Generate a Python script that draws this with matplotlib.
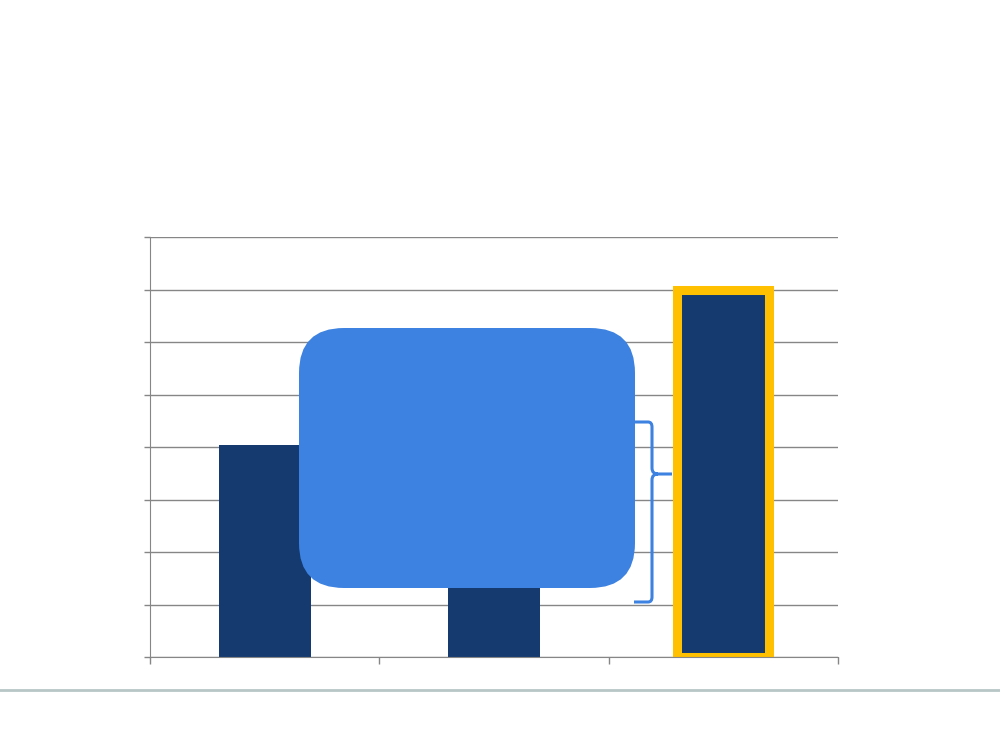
import matplotlib.pyplot as plt
from matplotlib.patches import FancyBboxPatch, PathPatch
from matplotlib.path import Path

categories = ["A", "B", "C"]
values = [4.04, 4.5, 7.0]
y_ticks = [0, 1, 2, 3, 4, 5, 6, 7, 8]

bar_color = "#143a70"
highlight = "#ffc000"
box_color = "#3d82e0"
grid_color = "#868686"

fig = plt.figure(figsize=(10, 7.5), dpi=100)
ax = fig.add_axes([0.15, 1 - 657 / 750, 0.688, 420 / 750])

x = range(len(categories))
bars = ax.bar(x, values, width=0.4, color=bar_color, zorder=2)
bars[2].set_edgecolor(highlight)
bars[2].set_linewidth(6.5)

ax.set_xlim(-0.5, len(categories) - 0.5)
ax.set_ylim(0, 8)
ax.set_yticks(y_ticks)
ax.set_yticklabels([])
ax.set_xticks([-0.5, 0.5, 1.5, 2.5])
ax.set_xticklabels([])
ax.tick_params(axis="y", direction="out", length=4, color=grid_color, width=1)
ax.tick_params(axis="x", direction="out", length=5, color=grid_color, width=1)
ax.yaxis.grid(True, color=grid_color, linewidth=1, zorder=0)
ax.set_axisbelow(True)
for side in ["top", "right"]:
    ax.spines[side].set_visible(False)
ax.spines["left"].set_color(grid_color)
ax.spines["bottom"].set_color(grid_color)
ax.spines["left"].set_zorder(3)
ax.spines["bottom"].set_zorder(3)

# rounded callout box (inches from bottom-left)
box = FancyBboxPatch((2.99, 1.62), 3.36, 2.6,
                     boxstyle="round,pad=0,rounding_size=0.45",
                     transform=fig.dpi_scale_trans, facecolor=box_color,
                     edgecolor="none", zorder=5)
fig.patches.append(box)

# curly brace
def p(px, py):
    return (px / 100, (750 - py) / 100)

verts = [p(634, 422), p(648, 422), p(652, 422), p(652, 427),
         p(652, 468), p(652, 474), p(658, 474), p(672, 474),
         p(658, 474), p(652, 474), p(652, 480),
         p(652, 597), p(652, 602), p(648, 602), p(634, 602)]
codes = [Path.MOVETO, Path.LINETO, Path.CURVE3, Path.CURVE3,
         Path.LINETO, Path.CURVE3, Path.CURVE3, Path.LINETO,
         Path.MOVETO, Path.CURVE3, Path.CURVE3,
         Path.LINETO, Path.CURVE3, Path.CURVE3, Path.LINETO]
brace = PathPatch(Path(verts, codes), facecolor="none", edgecolor=box_color,
                  linewidth=2.2, transform=fig.dpi_scale_trans, zorder=5)
fig.patches.append(brace)

# footer separator line
fig.add_artist(plt.Line2D([0, 1], [1 - 690 / 750, 1 - 690 / 750],
                          color="#b8c6c6", linewidth=2, transform=fig.transFigure))

fig.savefig("out.png", dpi=100)
